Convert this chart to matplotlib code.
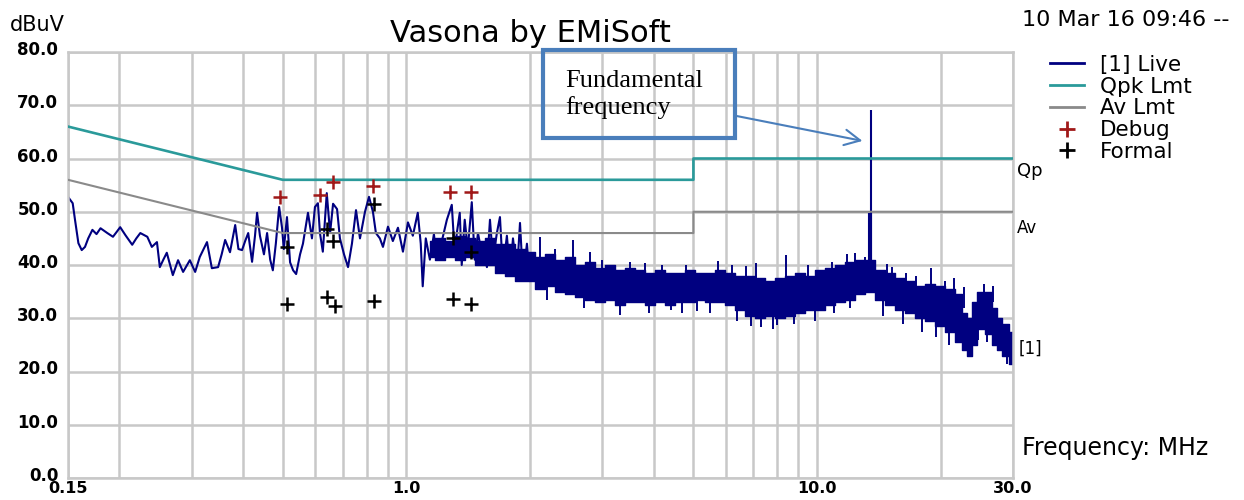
import numpy as np
import matplotlib.pyplot as plt
import matplotlib.transforms as mtransforms
from matplotlib.patches import Rectangle
from matplotlib.lines import Line2D

# ---- data (frequency in MHz, level in dBuV) ----
# sparse part of the live trace, 0.15 - 2 MHz
live_freq = [0.150, 0.154, 0.156, 0.159, 0.162, 0.165, 0.168, 0.172, 0.176, 0.180,
             0.187, 0.193, 0.197, 0.201, 0.207, 0.215, 0.220, 0.225, 0.234, 0.240,
             0.247, 0.251, 0.256, 0.261, 0.270, 0.278, 0.286, 0.297, 0.306, 0.314,
             0.327, 0.336, 0.348, 0.355, 0.362, 0.372, 0.383, 0.390, 0.398, 0.405,
             0.412, 0.421, 0.428, 0.433, 0.440, 0.450, 0.458, 0.466, 0.473, 0.481,
             0.490, 0.498, 0.503, 0.512, 0.521, 0.530, 0.539, 0.551, 0.560, 0.576,
             0.589, 0.599, 0.609, 0.616, 0.626, 0.640, 0.652, 0.663, 0.678, 0.689,
             0.705, 0.721, 0.737, 0.754, 0.771, 0.793, 0.811, 0.829, 0.843, 0.862,
             0.877, 0.902, 0.927, 0.954, 0.981, 1.009, 1.037, 1.066, 1.084, 1.096,
             1.115, 1.141, 1.167, 1.186, 1.227, 1.255, 1.290, 1.312, 1.327, 1.349,
             1.364, 1.387, 1.411, 1.443, 1.467, 1.494, 1.511, 1.545, 1.571, 1.598,
             1.625, 1.661, 1.690, 1.718, 1.757, 1.788, 1.818, 1.859, 1.891, 1.923,
             1.966, 2.000]
live_level = [52.8, 51.6, 48.5, 44.1, 42.8, 43.4, 45.0, 46.6, 45.8, 46.9,
              46.0, 45.3, 46.2, 47.1, 45.6, 43.8, 45.0, 46.0, 45.3, 43.4,
              44.3, 39.6, 41.0, 42.3, 38.1, 40.9, 38.7, 40.9, 38.7, 41.5,
              44.3, 39.4, 39.6, 42.0, 44.7, 42.4, 47.5, 43.0, 42.8, 44.5,
              46.0, 40.6, 45.5, 49.8, 45.5, 42.0, 46.0, 41.0, 39.0, 44.0,
              50.9, 47.0, 43.0, 49.0, 40.5, 39.0, 38.3, 42.0, 44.0, 49.8,
              45.0, 50.9, 51.6, 46.0, 42.5, 53.5, 46.0, 51.5, 50.5, 45.0,
              42.0, 39.6, 44.0, 50.3, 45.0, 50.0, 52.8, 50.0, 46.0, 45.0,
              43.4, 47.2, 44.5, 47.0, 42.5, 48.0, 45.5, 49.8, 44.0, 36.0,
              45.0, 41.0, 45.8, 41.0, 45.3, 48.5, 51.3, 42.0, 46.0, 49.8,
              40.0, 48.5, 43.0, 51.8, 41.0, 46.0, 44.0, 42.0, 39.6, 48.5,
              41.0, 46.0, 49.0, 39.0, 45.5, 38.5, 45.0, 38.5, 47.9, 37.5,
              44.0, 37.0]

# dense noise band of the live trace, ~1.1 - 30 MHz
band_freq = [1.141, 1.206, 1.276, 1.349, 1.427, 1.511, 1.598,
             1.690, 1.788, 1.891, 2.000, 2.115, 2.237, 2.367, 2.504, 2.648, 2.800,
             2.961, 3.132, 3.312, 3.504, 3.706, 3.920, 4.146, 4.385, 4.638, 4.905,
             5.190, 5.487, 5.800, 6.138, 6.490, 6.866, 7.260, 7.680, 8.120, 8.590,
             9.090, 9.610, 10.16, 10.75, 11.37, 12.03, 12.72, 13.46, 14.23, 15.05,
             15.92, 16.84, 17.80, 18.84, 19.92, 21.07, 22.28, 22.90, 23.57, 24.24,
             24.93, 26.37, 27.10, 27.88, 28.68, 30.00]
band_top = [44.5, 45.0, 44.5, 45.5, 45.0, 44.5, 45.0,
            44.0, 44.0, 43.0, 42.5, 41.5, 42.0, 41.0, 41.5, 40.0, 40.5,
            39.5, 40.0, 39.0, 39.5, 39.0, 38.5, 39.0, 38.5, 38.5, 39.0,
            38.5, 38.5, 39.0, 38.5, 38.0, 38.0, 37.5, 37.0, 37.5, 38.0,
            38.5, 38.0, 39.0, 39.5, 40.0, 40.5, 41.0, 41.0, 39.0, 38.5,
            37.5, 37.0, 36.0, 36.5, 36.0, 35.5, 34.5, 31.0, 30.0, 33.0,
            35.0, 35.0, 32.0, 30.0, 29.0, 27.5]
band_bottom = [41.5, 41.0, 41.5, 41.0, 41.5, 40.0, 40.0,
               38.5, 38.0, 37.0, 37.0, 35.5, 36.0, 35.0, 34.5, 34.0, 33.5,
               33.0, 33.5, 32.5, 33.0, 33.0, 32.5, 33.0, 32.5, 33.0, 33.0,
               33.5, 33.0, 33.0, 32.5, 31.5, 30.5, 30.0, 30.5, 30.0, 30.5,
               31.0, 31.5, 31.5, 32.5, 33.0, 33.5, 34.5, 35.0, 33.5, 32.5,
               31.5, 31.0, 30.0, 29.5, 28.5, 27.5, 25.5, 24.0, 23.0, 25.0,
               28.0, 27.0, 25.0, 24.0, 23.0, 21.5]

# isolated spikes sticking out of the band (low end, high end)
spike_freq = [2.12, 2.20, 2.30, 2.54, 2.70, 2.80, 3.00, 3.31, 3.50, 3.82,
              3.90, 4.20, 4.40, 4.70, 4.80, 5.10, 5.50, 5.75, 6.20, 6.40,
              6.70, 6.90, 7.10, 7.30, 7.80, 8.00, 8.40, 8.80, 9.50, 9.90,
              10.9, 11.0, 11.8, 12.0, 12.4, 13.10, 14.5, 14.8, 15.2, 16.2,
              16.5, 17.4, 18.0, 18.9, 19.5, 20.5, 21.0, 21.5, 22.8, 24.6,
              25.5, 26.0, 26.8, 29.0]
spike_low = [38.0, 33.5, 40.0, 38.0, 32.0, 38.0, 38.0, 30.6, 38.0, 37.0,
             31.0, 37.5, 31.5, 31.0, 37.5, 31.3, 31.0, 37.0, 37.0, 29.5,
             37.0, 28.5, 36.0, 28.3, 28.0, 28.7, 36.0, 29.0, 37.0, 29.5,
             37.0, 31.0, 39.0, 32.0, 39.0, 38.0, 30.5, 37.0, 36.0, 29.0,
             35.0, 34.5, 27.5, 34.0, 26.5, 34.0, 25.0, 34.0, 32.0, 26.0,
             34.0, 25.5, 33.0, 21.5]
spike_high = [45.3, 36.0, 43.0, 44.7, 34.5, 42.5, 41.0, 34.0, 40.5, 40.4,
              33.0, 40.0, 34.0, 33.5, 40.0, 34.0, 33.5, 40.8, 40.0, 32.0,
              39.8, 31.0, 40.4, 31.0, 30.5, 31.0, 41.9, 31.0, 40.0, 32.0,
              40.6, 33.5, 42.0, 34.0, 42.3, 41.5, 33.5, 40.2, 39.6, 31.5,
              38.5, 38.0, 30.0, 39.4, 29.0, 37.0, 28.0, 37.5, 35.9, 28.0,
              36.5, 27.5, 36.0, 23.5]

# fundamental at 13.56 MHz
fund_freq = [13.35, 13.42, 13.50]
fund_low = [38.0, 38.0, 38.0]
fund_high = [49.8, 49.8, 49.8]
peak_freq = 13.56
peak_level = 69.1

# limit lines
limit_freq = [0.15, 0.5, 5.0, 5.0, 30.0]
qpk_level = [66.0, 56.0, 56.0, 60.0, 60.0]
av_level = [56.0, 46.0, 46.0, 50.0, 50.0]

# markers
debug_freq = [0.492, 0.616, 0.664, 0.831, 1.277, 1.437]
debug_level = [52.8, 53.1, 55.6, 54.8, 53.8, 53.8]
formal_freq = [0.511, 0.511, 0.642, 0.642, 0.664, 0.670, 0.836, 0.836, 1.30, 1.30, 1.44, 1.44]
formal_level = [43.4, 32.6, 46.7, 34.0, 44.6, 32.3, 51.5, 33.2, 45.0, 33.6, 42.5, 32.6]

x_ticks = [0.15, 1.0, 10.0, 30.0]
x_tick_labels = ['0.15', '1.0', '10.0', '30.0']
x_minor = [0.2, 0.3, 0.4, 0.5, 0.6, 0.7, 0.8, 0.9, 2, 3, 4, 5, 6, 7, 8, 9, 20]
y_ticks = [0, 10, 20, 30, 40, 50, 60, 70, 80]

navy = '#000080'
teal = '#2a9a9a'
grey = '#8a8a8a'
gridc = '#c8c8c8'
boxc = '#4a7ebb'

# ---- figure ----
fig = plt.figure(figsize=(12.44, 5.0), dpi=100)
ax = fig.add_axes([68 / 1244, 22 / 500, 945 / 1244, 426 / 500])
ax.set_xscale('log')
ax.set_xlim(0.15, 30)
ax.set_ylim(0, 80)

ax.set_xticks(x_ticks)
ax.set_xticklabels(x_tick_labels)
ax.set_xticks(x_minor, minor=True)
ax.xaxis.set_minor_formatter(plt.NullFormatter())
ax.set_yticks(y_ticks)
ax.set_yticklabels([f'{v:.1f}' for v in y_ticks])
ax.tick_params(which='both', length=0)
ax.tick_params(axis='y', pad=7, labelsize=12)
ax.tick_params(axis='x', pad=2, labelsize=11.5)
up = mtransforms.ScaledTranslation(0, 4 / 100, fig.dpi_scale_trans)
for lab in ax.get_yticklabels():
    lab.set_fontweight('bold')
    lab.set_transform(lab.get_transform() + up)
for lab in ax.get_xticklabels():
    lab.set_fontweight('bold')
ax.grid(True, which='both', color=gridc, lw=1.8)
ax.set_axisbelow(True)
for s in ax.spines.values():
    s.set_color(gridc)
    s.set_linewidth(1.8)

# live trace
ax.fill_between(band_freq, band_bottom, band_top, step='mid', color=navy, lw=1.0, zorder=2)
ax.plot(live_freq, live_level, color=navy, lw=1.5, zorder=2)
ax.vlines(spike_freq, spike_low, spike_high, color=navy, lw=1.4, zorder=2)
ax.vlines(fund_freq, fund_low, fund_high, color=navy, lw=1.5, zorder=2)
ax.vlines([peak_freq], [38.0], [peak_level], color=navy, lw=1.5, zorder=2)

# limits
ax.plot(limit_freq, qpk_level, color=teal, lw=1.9, zorder=3)
ax.plot(limit_freq, av_level, color=grey, lw=1.5, zorder=3)

# markers
ax.scatter(debug_freq, debug_level, marker='+', s=110, color='#a01818', lw=1.8, zorder=4)
ax.scatter(formal_freq, formal_level, marker='+', s=110, color='black', lw=1.8, zorder=4)

# right-hand trace tags
tr = ax.get_yaxis_transform()
ax.text(1.004, qpk_level[-1] - 2.3, 'Qp', transform=tr, fontsize=13, va='center', ha='left')
ax.text(1.004, av_level[-1] - 3.0, 'Av', transform=tr, fontsize=12, va='center', ha='left')
ax.text(1.006, 24.2, '[1]', transform=tr, fontsize=12, va='center', ha='left')

# callout
ax.add_patch(Rectangle((0.5026, 0.798), 0.2032, 0.2067, transform=ax.transAxes,
                       fill=False, ec=boxc, lw=3, clip_on=False, zorder=5))
ax.text(0.526, 0.900, 'Fundamental\nfrequency', transform=ax.transAxes,
        family='Liberation Serif', fontsize=19, va='center', ha='left',
        linespacing=1.2, zorder=5)
ax.annotate('', xy=(12.9, 63.3), xycoords='data', xytext=(0.707, 0.85),
            textcoords='axes fraction',
            arrowprops=dict(arrowstyle='->', color=boxc, lw=1.5, mutation_scale=28,
                            shrinkA=0, shrinkB=0), zorder=5)

# legend
handles = [Line2D([], [], color=navy, lw=2),
           Line2D([], [], color=teal, lw=2),
           Line2D([], [], color=grey, lw=2),
           Line2D([], [], color='#a01818', marker='+', ls='none', ms=11, mew=2),
           Line2D([], [], color='black', marker='+', ls='none', ms=11, mew=2)]
labels = ['[1] Live', 'Qpk Lmt', 'Av Lmt', 'Debug', 'Formal']
fig.legend(handles, labels, loc='upper left', bbox_to_anchor=(1050 / 1244, 1 - 55 / 500),
           frameon=False, fontsize=15.5, handlelength=1.6, handletextpad=0.7,
           labelspacing=0.08, borderpad=0, borderaxespad=0)

# texts
fig.text(530 / 1244, 1 - 33 / 500, 'Vasona by EMiSoft', fontsize=22, ha='center', va='center')
fig.text(10 / 1244, 1 - 25 / 500, 'dBuV', fontsize=15, ha='left', va='center')
fig.text(1022 / 1244, 1 - 20 / 500, '10 Mar 16 09:46 --', fontsize=16, ha='left', va='center')
fig.text(1022 / 1244, 1 - 448 / 500, 'Frequency: MHz', fontsize=17, ha='left', va='center')

fig.savefig('out.png', dpi=100)
